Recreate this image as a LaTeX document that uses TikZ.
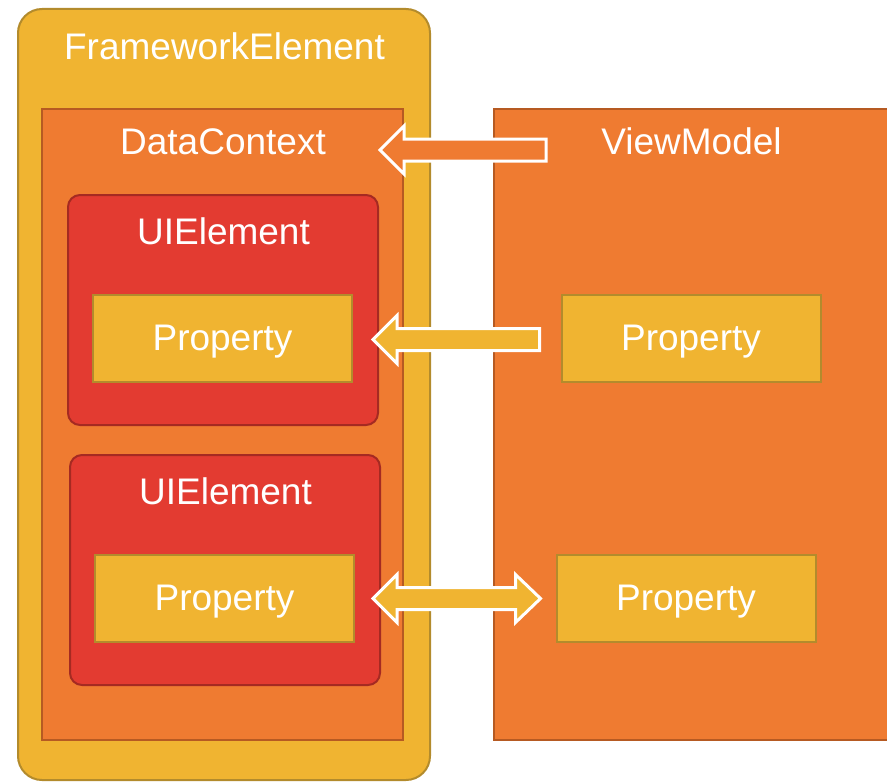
\documentclass[tikz,border=0pt]{standalone}
\usepackage{fontspec}
\setmainfont{Liberation Sans}
\usepackage{xcolor}
\usetikzlibrary{positioning,calc,fit}

\definecolor{fwyellow}{HTML}{F0B431}
\definecolor{fwyellowline}{HTML}{B38B2C}
\definecolor{dcorange}{HTML}{EF7B31}
\definecolor{dcorangeline}{HTML}{B65A22}
\definecolor{uired}{HTML}{E33B31}
\definecolor{uiredline}{HTML}{A52A22}

\begin{document}
\begin{tikzpicture}[
	x=0.5pt,y=-0.5pt,
	font=\fontsize{18.5pt}{22pt}\selectfont,
	box/.style={
		draw,
		rectangle,
		line width=1pt,
		inner sep=0pt
	},
	fwbox/.style={
		box,
		rounded corners=12pt,
		fill=fwyellow,
		draw=fwyellowline
	},
	dcbox/.style={
		box,
		fill=dcorange,
		draw=dcorangeline
	},
	uibox/.style={
		box,
		rounded corners=6pt,
		fill=uired,
		draw=uiredline
	},
	propbox/.style={
		box,
		fill=fwyellow,
		draw=fwyellowline,
		minimum width=129.5pt,
		minimum height=43.5pt,
		text=white,
		text height=1.15em,
		text depth=0pt
	},
	title/.style={
		text=white,
		inner sep=0pt,
		text height=1.12em,
		text depth=0pt
	},
	fatarrow/.style={
		draw=white,
		line width=1.5pt,
		line join=miter
	}
	]
	\useasboundingbox (0,0) rectangle (887,781);
	
	% containers
	\node[fwbox,fit={(18,9) (430,780)}] (fw) {};
	\node[dcbox,fit={(42,109) (403,740)}] (dc) {};
	\node[dcbox,fit={(494,109) (900,740)}] (vm) {};
	\node[uibox,fit={(68,195) (378,425)}] (ui1) {};
	\node[uibox,fit={(70,455) (380,685)}] (ui2) {};
	
	\node[title] at (224.5,48.5) (fwtitle) {FrameworkElement};
	\node[title] at (223,143) (dctitle) {DataContext};
	\node[title] at (691.5,143) (vmtitle) {ViewModel};
	\node[title] at (223.5,233) (ui1title) {UIElement};
	\node[title] at (225.5,493) (ui2title) {UIElement};
	
	% properties
	\node[propbox] at (222.5,338.5) (p1) {Property};
	\node[propbox] at (224.5,598.5) (p2) {Property};
	\node[propbox] at (691,338.5) (vp1) {Property};
	\node[propbox] at (686,598.5) (vp2) {Property};
	
	% arrow ends
	\coordinate (a1tip) at ($(dc.east |- dctitle)+(-24,7)$);
	\coordinate (a1tail) at ($(vm.west |- dctitle)+(53,7)$);
	\coordinate (a2tip) at ($(p1.east)+(20,1)$);
	\coordinate (a2tail) at ($(vp1.west)+(-21,1)$);
	\coordinate (a3left) at ($(p2.east)+(18,0)$);
	\coordinate (a3right) at ($(vp2.west)+(-15,0)$);
	
	\draw[fatarrow,fill=dcorange] (a1tip) -- ++(24,-24) -- ++(0,13)
		-- ($(a1tail)+(0,-11)$) -- ($(a1tail)+(0,11)$)
		-- ($(a1tip)+(24,11)$) -- ++(0,13) -- cycle;
	\draw[fatarrow,fill=fwyellow] (a2tip) -- ++(24,-24) -- ++(0,13)
		-- ($(a2tail)+(0,-11)$) -- ($(a2tail)+(0,11)$)
		-- ($(a2tip)+(24,11)$) -- ++(0,13) -- cycle;
	\draw[fatarrow,fill=fwyellow] (a3left) -- ++(24,-24) -- ++(0,13)
		-- ($(a3right)+(-25,-11)$) -- ++(0,-13) -- (a3right)
		-- ++(-25,24) -- ++(0,-13)
		-- ($(a3left)+(24,11)$) -- ++(0,13) -- cycle;
\end{tikzpicture}
\end{document}
